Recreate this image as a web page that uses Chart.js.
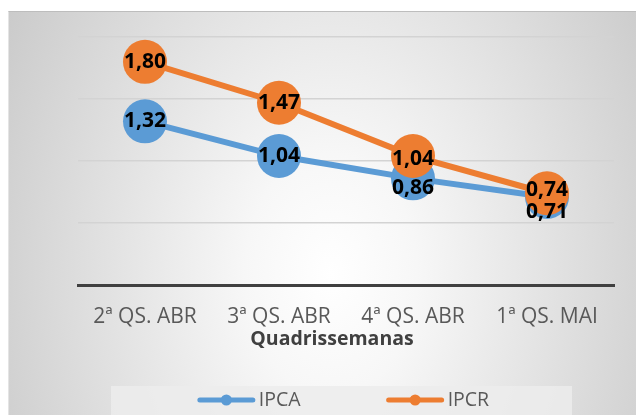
<!DOCTYPE html>
<html>
<head>
<meta charset="utf-8">
<script src="https://cdn.jsdelivr.net/npm/chart.js@4.4.1/dist/chart.umd.min.js"></script>
<style>
  html, body { margin: 0; padding: 0; background: #ffffff; }
  #wrap { position: relative; width: 636px; height: 415px; overflow: hidden; }
  #frame {
    position: absolute; left: 8px; top: 11px; width: 640px; height: 420px;
    background: radial-gradient(ellipse 430px 600px at 322px 262px, #ffffff 0%, #f7f7f7 20%, #c2c2c2 100%);
    border-top: 1px solid #bdbdbd; border-left: 1px solid #e4e4e4;
  }
  canvas { position: absolute; left: 0; top: 0; }
</style>
</head>
<body>
<div id="wrap">
  <div id="frame"></div>
  <canvas id="c" width="636" height="415"></canvas>
</div>
<script>
// ---- data ----
const categories = ['2ª QS. ABR', '3ª QS. ABR', '4ª QS. ABR', '1ª QS. MAI'];
const ipcaValues = [1.32, 1.04, 0.86, 0.71];
const ipcrValues = [1.80, 1.47, 1.04, 0.74];
const seriesNames = ['IPCA', 'IPCR'];
const axisTitle = 'Quadrissemanas';
const yMin = 0, yMax = 2, yStep = 0.5;

// ---- style ----
const BLUE = '#5B9BD5';
const ORANGE = '#ED7D31';
const FONT = "'Open Sans', 'Liberation Sans', sans-serif";
// vertical nudge of each value label relative to its point (pixels), per series
const labelNudge = [[0, 0, 10, 15], [0, 0, 3, -3]];

const fmt = v => v.toFixed(2).replace('.', ',');

const overlay = {
  id: 'overlay',
  afterDatasetsDraw(chart) {
    const ctx = chart.ctx;
    ctx.save();
    ctx.font = "bold 21px " + FONT;
    ctx.fillStyle = '#000000';
    ctx.textAlign = 'center';
    ctx.textBaseline = 'middle';
    chart.data.datasets.forEach((ds, di) => {
      const meta = chart.getDatasetMeta(di);
      meta.data.forEach((pt, i) => {
        ctx.fillText(fmt(ds.data[i]), pt.x, pt.y + labelNudge[di][i]);
      });
    });
    ctx.restore();
  },
  afterDraw(chart) {
    const ctx = chart.ctx;
    ctx.save();
    // axis title
    ctx.font = "bold 19.5px " + FONT;
    ctx.fillStyle = '#404040';
    ctx.textAlign = 'center';
    ctx.textBaseline = 'middle';
    ctx.fillText(axisTitle, 332, 339);

    // legend box
    const boxL = 111, boxT = 386, boxW = 461, boxH = 40;
    ctx.fillStyle = 'rgba(236,236,236,0.85)';
    ctx.fillRect(boxL, boxT, boxW, boxH);

    ctx.font = "19.5px " + FONT;
    const lineLen = 57, textGap = 4, itemGap = 86;
    const items = chart.data.datasets.map(ds => ({
      label: ds.label, color: ds.borderColor,
      w: lineLen + textGap + ctx.measureText(ds.label).width
    }));
    const total = items.reduce((s, it) => s + it.w, 0) + itemGap * (items.length - 1);
    let x = boxL + boxW / 2 - total / 2 + 2;
    const cy = 400;
    items.forEach(it => {
      ctx.strokeStyle = it.color;
      ctx.lineWidth = 5;
      ctx.lineCap = 'round';
      ctx.beginPath();
      ctx.moveTo(x + 2, cy);
      ctx.lineTo(x + lineLen - 2, cy);
      ctx.stroke();
      ctx.fillStyle = it.color;
      ctx.beginPath();
      ctx.arc(x + lineLen / 2, cy, 5.5, 0, Math.PI * 2);
      ctx.fill();
      ctx.fillStyle = '#595959';
      ctx.textAlign = 'left';
      ctx.textBaseline = 'middle';
      ctx.fillText(it.label, x + lineLen + textGap, cy);
      x += it.w + itemGap;
    });
    ctx.restore();
  }
};

new Chart(document.getElementById('c'), {
  type: 'line',
  data: {
    labels: categories,
    datasets: [
      {
        label: seriesNames[0], data: ipcaValues, order: 2,
        borderColor: BLUE, backgroundColor: BLUE,
        borderWidth: 6, pointRadius: 22, pointHoverRadius: 22,
        pointBorderWidth: 0, pointBackgroundColor: BLUE, tension: 0, clip: false
      },
      {
        label: seriesNames[1], data: ipcrValues, order: 1,
        borderColor: ORANGE, backgroundColor: ORANGE,
        borderWidth: 6, pointRadius: 22, pointHoverRadius: 22,
        pointBorderWidth: 0, pointBackgroundColor: ORANGE, tension: 0, clip: false
      }
    ]
  },
  options: {
    responsive: false,
    animation: false,
    events: [],
    layout: { padding: { left: 78, right: 13, top: 37, bottom: 65 } },
    plugins: { legend: { display: false }, tooltip: { enabled: false } },
    scales: {
      x: {
        offset: true,
        grid: { display: false, drawTicks: false },
        border: { display: true, color: '#404040', width: 3 },
        ticks: { color: '#595959', font: { family: FONT, size: 21 }, padding: 19, maxRotation: 0, autoSkip: false },
        afterFit: s => { s.height = 65; }
      },
      y: {
        min: yMin, max: yMax,
        ticks: { display: false, stepSize: yStep },
        grid: { color: '#d3d3d3', lineWidth: 1.5, drawTicks: false },
        border: { display: false },
        afterFit: s => { s.width = 0; }
      }
    }
  },
  plugins: [overlay]
});
</script>
</body>
</html>
